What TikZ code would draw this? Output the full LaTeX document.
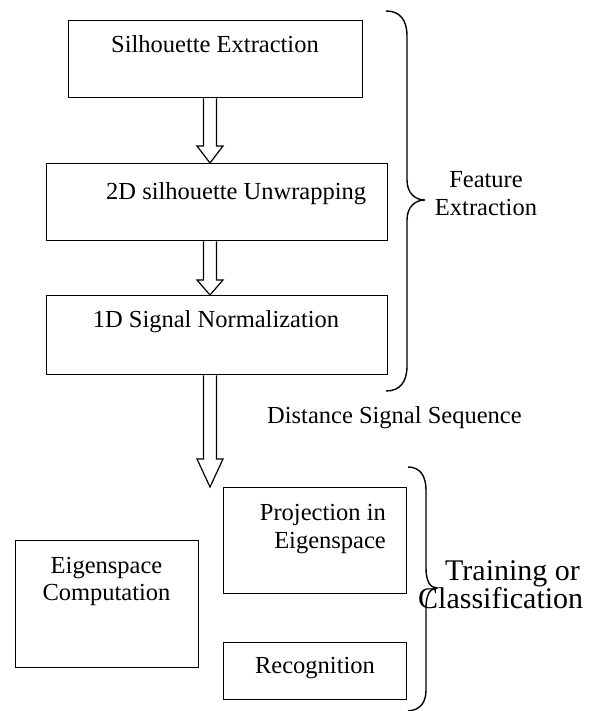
\documentclass[tikz,border=0pt]{standalone}
\usepackage{fontspec}
\setmainfont{Liberation Serif}
\usetikzlibrary{calc}
\newcommand\blockarr[3]{%
  \draw[blockarrow] ($(#1.south -| ax)+(-6.5,0)$) -- ($(#2.north -| ax)+(-6.5,-#3)$)
    -- ($(#2.north -| ax)+(-13,-#3)$) -- (#2.north -| ax)
    -- ($(#2.north -| ax)+(13,-#3)$) -- ($(#2.north -| ax)+(6.5,-#3)$)
    -- ($(#1.south -| ax)+(6.5,0)$);}
\begin{document}
\begin{tikzpicture}[x=1pt,y=-1pt,
  box/.style={draw, line width=1.4pt, inner sep=0, anchor=north west},
  lbl/.style={inner sep=0, font=\fontsize{24.5}{28}\selectfont},
  big/.style={inner sep=0, font=\fontsize{30}{28}\selectfont},
  blockarrow/.style={draw, line width=1.2pt, line join=miter},
  bracestyle/.style={draw, line width=1.4pt}]
\useasboundingbox[fill=white] (0,0) rectangle (594,711);
\coordinate (ax) at (210,0);
% boxes
\node[box, minimum width=294pt, minimum height=77pt] (b1) at (68,20) {};
\node[box, minimum width=341pt, minimum height=77pt] (b2) at (46,163) {};
\node[box, minimum width=341pt, minimum height=79pt] (b3) at (46,295) {};
\node[box, minimum width=183pt, minimum height=106pt] (proj) at (223,487) {};
\node[box, minimum width=183pt, minimum height=57pt] (recog) at (223,642) {};
\node[box, minimum width=183pt, minimum height=127pt] (eigen) at (15,540) {};
% arrows
\blockarr{b1}{b2}{17}
\blockarr{b2}{b3}{15}
\blockarr{b3}{proj}{28}
% texts
\node[lbl, anchor=base] (t1) at (215,53) {Silhouette Extraction};
\node[lbl, anchor=base west] (t2) at (106,200) {2D silhouette Unwrapping};
\node[lbl, anchor=base] (t3) at (216,327) {1D Signal Normalization};
\node[lbl, anchor=base west] (t4) at (267,423) {Distance Signal Sequence};
\node[lbl, anchor=base east] (t5) at (386,520) {Projection in};
\node[lbl, anchor=base east] (t6) at (386,548) {Eigenspace};
\node[lbl, anchor=base] (t7) at (315,673) {Recognition};
\node[lbl, anchor=base] (t8) at (106.5,573) {Eigenspace};
\node[lbl, anchor=base] (t9) at (106.5,600) {Computation};
\node[lbl, anchor=base] (t10) at (486,188) {Feature};
\node[lbl, anchor=base] (t11) at (486,215) {Extraction};
\node[big, anchor=base west] (t12) at (445,580) {Training or};
\node[big, anchor=base west] (t13) at (418,608) {Classification};
% braces
\draw[bracestyle] (386,11) .. controls (400,11) and (407,20) .. (407,36)
  -- (407,180) .. controls (407,193) and (415,200) .. (425,200)
  .. controls (415,200) and (407,207) .. (407,220)
  -- (407,366) .. controls (407,382) and (400,391) .. (386,391);
\draw[bracestyle] (408,467) .. controls (420,467) and (426,476) .. (426,490)
  -- (426,568) .. controls (426,581) and (430,588) .. (437,588)
  .. controls (430,588) and (426,595) .. (426,608)
  -- (426,690) .. controls (426,703) and (420,710) .. (408,711);
\end{tikzpicture}
\end{document}
